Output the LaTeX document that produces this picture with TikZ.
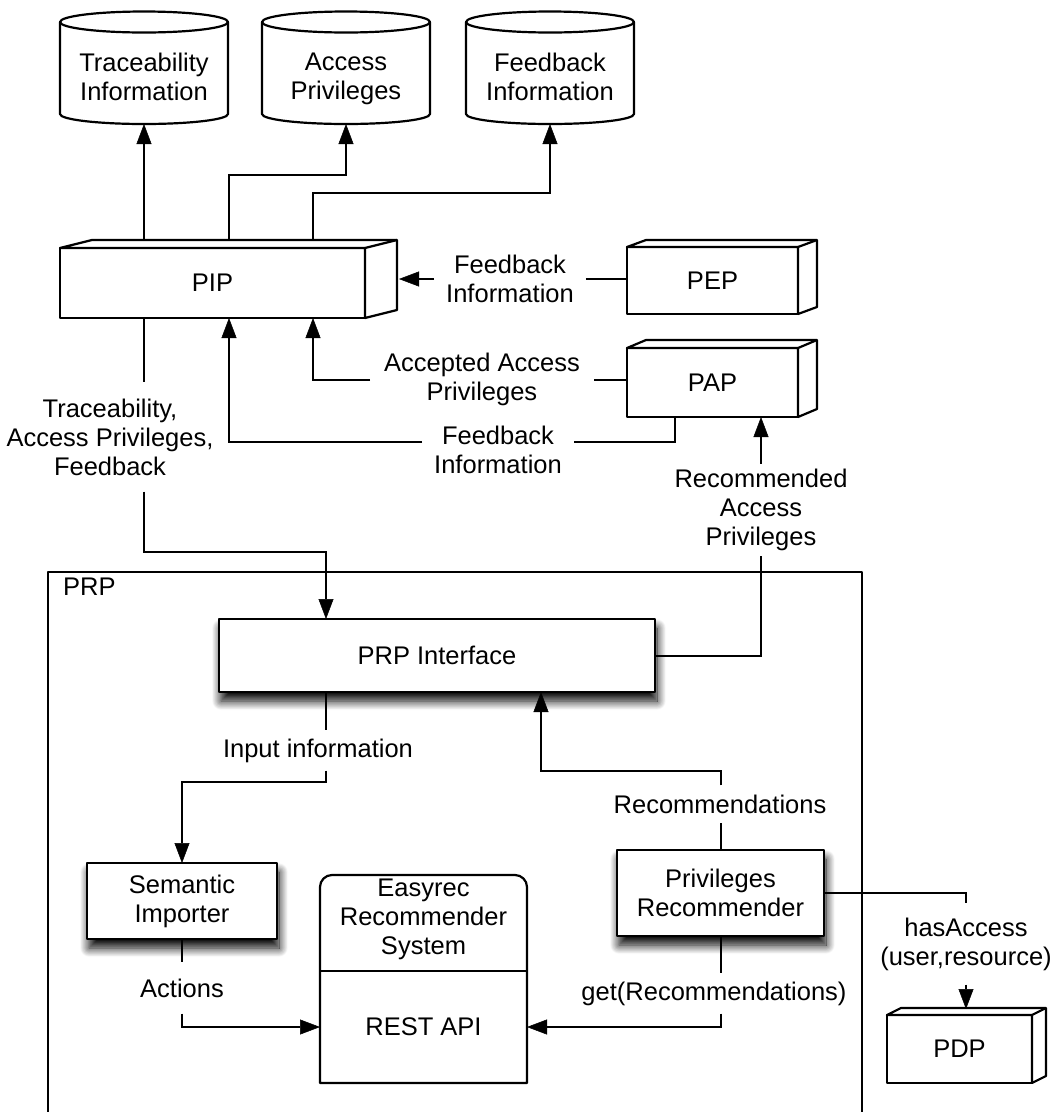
\documentclass[tikz,border=0pt]{standalone}
\usepackage{fontspec}
\setmainfont{Liberation Sans}
\usetikzlibrary{arrows.meta,shadows.blur}
\pgfdeclarelayer{background}
\pgfsetlayers{background,main}

\tikzset{
  txt/.style={font=\fontsize{25.5}{29}\selectfont, align=center},
  edge/.style={line width=2.2pt, line join=round},
  shadowed/.style={blur shadow={shadow xshift=2pt, shadow yshift=-9pt,
      shadow blur radius=9pt, shadow blur steps=16, shadow opacity=100}},
  front/.style={txt, draw, edge, fill=white, inner sep=0pt, outer sep=0pt},
  plainbox/.style={front, shadowed},
  cylnode/.style={inner sep=0pt, outer sep=0pt,
      minimum width=168pt, minimum height=102pt},
  lbl/.style={txt, inner xsep=12pt, inner ysep=#1},
  lbl/.default=10pt,
  conn/.style={line width=2pt, draw=black},
  arr/.style={conn, -{Triangle[length=20pt, width=15pt, fill=black, line width=0.5pt]}},
}

% side and top faces of a 3D box: node name, depth x, depth y
\newcommand\depthbox[3]{%
  \begin{pgfonlayer}{background}
    \path[fill=white, shadowed] (#1.south west) -- (#1.north west)
      -- ([shift={(#2pt,#3pt)}]#1.north west) -- ([shift={(#2pt,#3pt)}]#1.north east)
      -- ([shift={(#2pt,#3pt)}]#1.south east) -- (#1.south east) -- cycle;
  \end{pgfonlayer}
  \draw[edge, fill=white] (#1.north west) -- ([shift={(#2pt,#3pt)}]#1.north west)
      -- ([shift={(#2pt,#3pt)}]#1.north east) -- ([shift={(#2pt,#3pt)}]#1.south east)
      -- (#1.south east) -- (#1.north east) -- cycle;
  \draw[edge] (#1.north east) -- ([shift={(#2pt,#3pt)}]#1.north east);
}

% database cylinder around a node
\newcommand\dbcyl[1]{%
  \begin{pgfonlayer}{background}
    \path[fill=white, shadowed] (#1.north west) -- ([yshift=10pt]#1.south west)
      arc[start angle=180, end angle=360, x radius=84pt, y radius=10pt]
      -- (#1.north east) -- cycle;
  \end{pgfonlayer}
  \draw[edge] (#1.north west) -- ([yshift=10pt]#1.south west)
      arc[start angle=180, end angle=360, x radius=84pt, y radius=10pt]
      -- (#1.north east);
  \draw[edge, fill=white] (#1.north) ellipse[x radius=84pt, y radius=10.5pt];
}

\begin{document}
\begin{tikzpicture}[x=1pt, y=-1pt]
\useasboundingbox (0,0) rectangle (1056,1112);

% ---------- stores ----------
\node[cylnode] (cyl1) at (144,73) {};
\dbcyl{cyl1}
\node[txt, inner sep=0pt] (cyl1t) at (144,77) {Traceability\\Information};
\node[cylnode] (cyl2) at (346,73) {};
\dbcyl{cyl2}
\node[txt, inner sep=0pt] (cyl2t) at (346,79) {Access\\Privileges};
\node[cylnode] (cyl3) at (550,73) {};
\dbcyl{cyl3}
\node[txt, inner sep=0pt] (cyl3t) at (550,77) {Feedback\\Information};

% ---------- policy points ----------
\node[front, minimum width=305pt, minimum height=70pt] (pip) at (212.5,283) {PIP};
\depthbox{pip}{32}{8}
\node[front, minimum width=171pt, minimum height=67pt] (pep) at (712.5,280.5) {PEP};
\depthbox{pep}{19}{7}
\node[front, minimum width=171pt, minimum height=69pt] (pap) at (712.5,382.5) {PAP};
\depthbox{pap}{19}{8}
\node[front, minimum width=145pt, minimum height=68pt] (pdp) at (959.5,1049) {PDP};
\depthbox{pdp}{14}{7}

\coordinate (pipAt) at ([xshift=84pt,yshift=8pt]pip.north west);
\coordinate (pipBt) at ([xshift=169pt,yshift=8pt]pip.north west);
\coordinate (pipCt) at ([xshift=253pt,yshift=8pt]pip.north west);
\coordinate (pipA) at ([xshift=84pt]pip.south west);
\coordinate (pipB) at ([xshift=169pt]pip.south west);
\coordinate (pipC) at ([xshift=253pt]pip.south west);
\coordinate (pipR) at ([xshift=34pt]pip.east);
\coordinate (pdpT) at ([yshift=6pt]pdp.north);

% ---------- PRP frame ----------
\draw[edge] (48,1116) -- (48,572) -- (862,572) -- (862,1116);
\node[txt, anchor=west, inner sep=0pt] (prpname) at (63,587) {PRP};

\node[plainbox, minimum width=436pt, minimum height=73pt] (prpi) at (437,655.5) {PRP Interface};
\node[plainbox, minimum width=190pt, minimum height=76pt] (si) at (182,901) {Semantic\\Importer};
\node[plainbox, minimum width=207pt, minimum height=86pt] (pr) at (720.5,893) {Privileges\\Recommender};

\coordinate (prpiIn) at ([xshift=107pt]prpi.north west);
\coordinate (prpiOut) at ([xshift=322pt]prpi.south west);

% recommender system with its REST API
\node[inner sep=0pt, outer sep=0pt, minimum width=207pt, minimum height=208pt] (er) at (423.5,979) {};
\draw[edge] (er.south west) -- ([yshift=-12pt]er.north west)
   arc[start angle=180, end angle=90, radius=12pt]
   -- ([xshift=-12pt]er.north east)
   arc[start angle=90, end angle=0, radius=12pt]
   -- (er.south east) -- cycle;
\draw[edge] ([yshift=-96pt]er.north west) -- ([yshift=-96pt]er.north east);
\node[txt, inner sep=0pt] (erh) at (423.5,919) {Easyrec\\Recommender\\System};
\node[txt, inner sep=0pt] (rest) at (423.5,1027) {REST API};
\coordinate (erIn) at (er.west |- rest);
\coordinate (erOut) at (er.east |- rest);

% ---------- labels ----------
\node[lbl=0pt, inner xsep=12pt] (lPEP) at (510,279) {Feedback\\Information};
\node[lbl=0pt, inner xsep=14pt] (lAcc) at (482,379.5) {Accepted Access\\Privileges};
\node[lbl=0pt, inner xsep=12pt] (lFb2) at (498,450) {Feedback\\Information};
\node[lbl=5pt] (lRec) at (761,510) {Recommended\\Access\\Privileges};
\node[lbl=16pt] (lTr) at (110,437) {Traceability,\\Access Privileges,\\Feedback};
\node[lbl=8pt] (lIn) at (318,750.5) {Input information};
\node[lbl=16pt] (lAct) at (182,988) {Actions};
\node[lbl=9pt] (lRecs) at (720,804) {Recommendations};
\node[lbl=8pt] (lGet) at (714,993.5) {get(Recommendations)};
\node[lbl=14pt] (lHas) at (966,944) {hasAccess\\(user,resource)};

% ---------- connectors ----------
\draw[arr] (pipAt) -- (cyl1.south);
\draw[arr] (pipBt) |- ([yshift=-51pt]cyl2.south) -- (cyl2.south);
\draw[arr] (pipCt) |- ([yshift=-69pt]cyl3.south) -- (cyl3.south);

\draw[conn] (lPEP.east) -- (lPEP.east -| pep.west);
\draw[arr] (lPEP.west) -- (lPEP.west -| pipR);

\draw[conn] (lAcc.east) -- (lAcc.east -| pap.west);
\draw[arr] (lAcc.west) -| (pipC);

\draw[conn] ([xshift=48pt]pap.south west) |- ([yshift=8pt]lFb2.east);
\draw[arr] ([yshift=8pt]lFb2.west) -| (pipB);

\draw[arr] (lRec.north) -- (lRec.north |- pap.south);
\draw[conn] (lRec.south) |- (prpi.east);

\draw[conn] (pipA) -- (pipA |- lTr.north);
\draw[arr] (pipA |- lTr.south) |- ([yshift=67pt]prpiIn) -- (prpiIn);

\draw[conn] (prpiIn |- prpi.south) -- (prpiIn |- lIn.north);
\draw[arr] (prpiIn |- lIn.south) |- ([yshift=81pt]si.north) -- (si.north);

\draw[conn] (si.south) -- (si.south |- lAct.north);
\draw[arr] (si.south |- lAct.south) |- (erIn);

\draw[conn] (pr.north) -- (pr.north |- lRecs.south);
\draw[arr] (pr.north |- lRecs.north) |- ([yshift=-79pt]prpiOut) -- (prpiOut);

\draw[conn] (pr.south) -- (pr.south |- lGet.north);
\draw[arr] (pr.south |- lGet.south) |- (erOut);

\draw[conn] (pr.east) -| (lHas.north);
\draw[arr] (lHas.south) -- (lHas.south |- pdpT);
\end{tikzpicture}
\end{document}
